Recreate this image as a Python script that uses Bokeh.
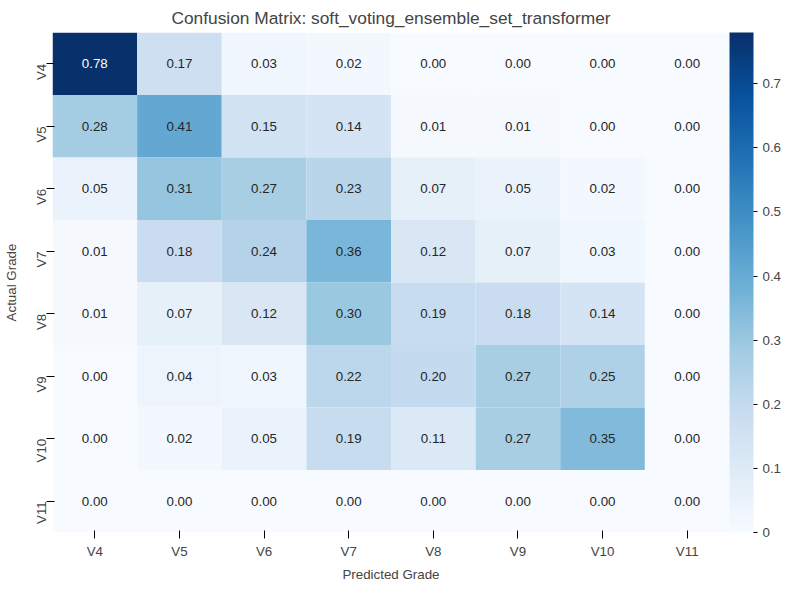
from bokeh.plotting import figure
from bokeh.models import ColumnDataSource, LinearColorMapper, ColorBar, FixedTicker
from bokeh.palettes import Blues256
from bokeh.embed import file_html
from bokeh.resources import INLINE
import math

grades = ["V4","V5","V6","V7","V8","V9","V10","V11"]
matrix = [
    [0.78,0.17,0.03,0.02,0.00,0.00,0.00,0.00],
    [0.28,0.41,0.15,0.14,0.01,0.01,0.00,0.00],
    [0.05,0.31,0.27,0.23,0.07,0.05,0.02,0.00],
    [0.01,0.18,0.24,0.36,0.12,0.07,0.03,0.00],
    [0.01,0.07,0.12,0.30,0.19,0.18,0.14,0.00],
    [0.00,0.04,0.03,0.22,0.20,0.27,0.25,0.00],
    [0.00,0.02,0.05,0.19,0.11,0.27,0.35,0.00],
    [0.00,0.00,0.00,0.00,0.00,0.00,0.00,0.00],
]

xs, ys, vs, labels, tcol = [], [], [], [], []
for i, a in enumerate(grades):
    for j, pgr in enumerate(grades):
        v = matrix[i][j]
        xs.append(pgr); ys.append(a); vs.append(v)
        labels.append(f"{v:.2f}")
        tcol.append("white" if v > 0.6 else "#262626")
src = ColumnDataSource(dict(x=xs, y=ys, v=vs, label=labels, tc=tcol))

palette = list(reversed(Blues256))
mapper = LinearColorMapper(palette=palette, low=0.0, high=0.78)

p = figure(width=784, height=584, x_range=grades, y_range=list(reversed(grades)),
           output_backend="svg", toolbar_location=None,
           title="Confusion Matrix: soft_voting_ensemble_set_transformer",
           min_border_left=50, min_border_right=10, min_border_top=27, min_border_bottom=51)
p.rect(x="x", y="y", width=1, height=1, source=src,
       fill_color={"field": "v", "transform": mapper}, line_color=None)
p.text(x="x", y="y", text="label", source=src, text_color="tc",
       text_align="center", text_baseline="middle", text_font_size="10pt")

p.title.align = "center"
p.title.text_font_style = "normal"
p.title.text_font_size = "13pt"
p.xaxis.axis_label = "Predicted Grade"
p.yaxis.axis_label = "Actual Grade"
for ax in (p.xaxis, p.yaxis):
    ax.axis_label_text_font_style = "normal"
    ax.axis_label_text_font_size = "10pt"
    ax.major_label_text_font_size = "10pt"
    ax.axis_line_color = None
    ax.major_tick_line_color = "black"
    ax.minor_tick_line_color = None
p.yaxis.major_label_orientation = math.pi/2
p.grid.visible = False
p.outline_line_color = None

cb = ColorBar(color_mapper=mapper, width=24, padding=0, margin=36,
              ticker=FixedTicker(ticks=[0,0.1,0.2,0.3,0.4,0.5,0.6,0.7]),
              major_label_text_font_size="10pt", bar_line_color=None,
              major_tick_line_color="black", major_tick_out=4, major_tick_in=0,
              border_line_color=None)
p.add_layout(cb, "right")

open("out.html", "w").write(file_html(p, INLINE))
